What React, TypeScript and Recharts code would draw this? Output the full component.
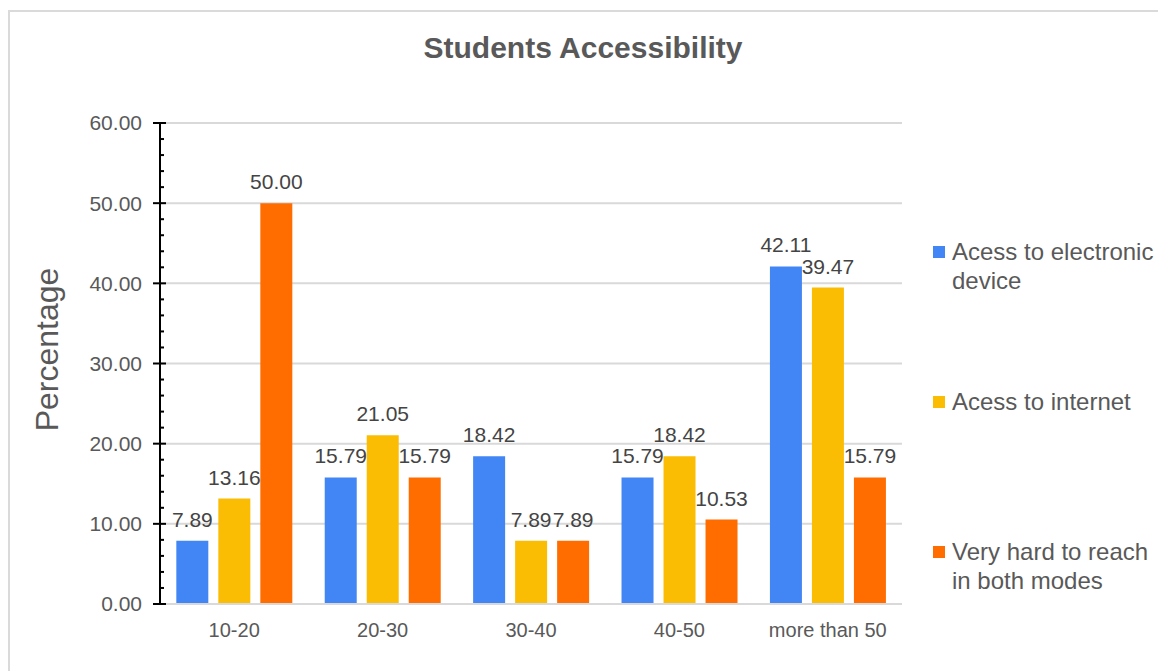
import React from "react";
import { BarChart, Bar, XAxis, YAxis, CartesianGrid, Legend, LabelList } from "recharts";

const categories = ["10-20", "20-30", "30-40", "40-50", "more than 50"];
const deviceAccess = [7.89, 15.79, 18.42, 15.79, 42.11];
const internetAccess = [13.16, 21.05, 7.89, 18.42, 39.47];
const hardToReach = [50.0, 15.79, 7.89, 10.53, 15.79];

const majorTicks = [0, 10, 20, 30, 40, 50, 60];
// every 2 units; labels only on the multiples of 10
const axisTicks = [0, 2, 4, 6, 8, 10, 12, 14, 16, 18, 20, 22, 24, 26, 28, 30, 32, 34, 36, 38, 40, 42, 44, 46, 48, 50, 52, 54, 56, 58, 60];

const rows = categories.map((c, i) => ({
  group: c,
  device: deviceAccess[i],
  internet: internetAccess[i],
  hard: hardToReach[i],
}));

const FONT = "'Liberation Sans', Arial, sans-serif";
const TEXT = "#595959";
const TICK_SIZE = 7;
const TICK_MARGIN = 11;

const fmt = (v: any) => Number(v).toFixed(2);

function YTick(props: any) {
  const { x, y, payload } = props;
  const axisX = x + TICK_SIZE + TICK_MARGIN;
  const v = payload.value;
  const major = v % 10 === 0;
  return (
    <g>
      {major ? (
        <>
          <line x1={axisX - 7} x2={axisX + 6} y1={y} y2={y} stroke="#000" strokeWidth={2} />
          <text x={x} y={y} dy="0.355em" textAnchor="end" fill={TEXT} fontSize={21} fontFamily={FONT}>
            {fmt(v)}
          </text>
        </>
      ) : (
        <line x1={axisX} x2={axisX + 4} y1={y} y2={y} stroke="#000" strokeWidth={2} />
      )}
    </g>
  );
}

function YTitle(props: any) {
  const vb = props.viewBox || { x: 80, y: 123, width: 80, height: 481 };
  const x = vb.x - 22;
  const y = vb.y + vb.height / 2 - 14;
  return (
    <text
      x={x}
      y={y}
      transform={`rotate(-90, ${x}, ${y})`}
      textAnchor="middle"
      fill={TEXT}
      fontSize={32}
      fontFamily={FONT}
    >
      Percentage
    </text>
  );
}

function LegendBox(props: any) {
  const payload = props.payload || [];
  return (
    <div style={{ fontFamily: FONT }}>
      {payload.map((p: any) => (
        <div key={p.value} style={{ display: "flex", alignItems: "flex-start", height: 150 }}>
          <div style={{ width: 12, height: 12, background: p.color, marginTop: 9, marginRight: 7, flex: "none" }} />
          <div style={{ width: 206, fontSize: 24, lineHeight: "29px", color: TEXT }}>{p.value}</div>
        </div>
      ))}
    </div>
  );
}

export default function App() {
  return (
    <div style={{ position: "absolute", left: 0, top: 0, width: 1158, height: 671, background: "#fff", overflow: "hidden" }}>
      <div
        style={{
          position: "absolute",
          left: 8,
          top: 10,
          width: 1160,
          height: 670,
          borderTop: "2px solid #dadada",
          borderLeft: "2px solid #dadada",
        }}
      />
      <div
        style={{
          position: "absolute",
          left: 383,
          top: 33,
          width: 400,
          textAlign: "center",
          fontFamily: FONT,
          fontWeight: "bold",
          fontSize: 30,
          lineHeight: "30px",
          color: TEXT,
        }}
      >
        Students Accessibility
      </div>
      <BarChart
        width={1158}
        height={671}
        data={rows}
        margin={{ top: 123, right: 256, bottom: 27, left: 80 }}
        barCategoryGap="11%"
        barGap={10}
        style={{ position: "absolute", left: 0, top: 0 }}
      >
        <CartesianGrid vertical={false} horizontalValues={majorTicks} stroke="#d9d9d9" strokeWidth={2} />
        <XAxis
          dataKey="group"
          height={40}
          axisLine={{ stroke: "#d9d9d9", strokeWidth: 2 }}
          tickLine={false}
          tickSize={6}
          tickMargin={13}
          tick={{ fill: TEXT, fontSize: 20, fontFamily: FONT }}
        />
        <YAxis
          width={80}
          domain={[0, 60]}
          ticks={axisTicks}
          interval={0}
          axisLine={{ stroke: "#000", strokeWidth: 2 }}
          tickLine={false}
          tickSize={TICK_SIZE}
          tickMargin={TICK_MARGIN}
          tick={YTick}
          label={YTitle}
        />
        <Legend
          layout="vertical"
          align="center"
          verticalAlign="middle"
          wrapperStyle={{ left: 933, top: 237, width: 225 }}
          content={LegendBox}
        />
        <Bar dataKey="device" name="Acess to electronic device" fill="#4285F4" isAnimationActive={false}>
          <LabelList dataKey="device" position="top" offset={14} formatter={fmt} fill="#444" fontSize={21} fontFamily={FONT} />
        </Bar>
        <Bar dataKey="internet" name="Acess to internet" fill="#FBBC04" isAnimationActive={false}>
          <LabelList dataKey="internet" position="top" offset={14} formatter={fmt} fill="#444" fontSize={21} fontFamily={FONT} />
        </Bar>
        <Bar dataKey="hard" name="Very hard to reach in both modes" fill="#FF6D01" isAnimationActive={false}>
          <LabelList dataKey="hard" position="top" offset={14} formatter={fmt} fill="#444" fontSize={21} fontFamily={FONT} />
        </Bar>
      </BarChart>
    </div>
  );
}
